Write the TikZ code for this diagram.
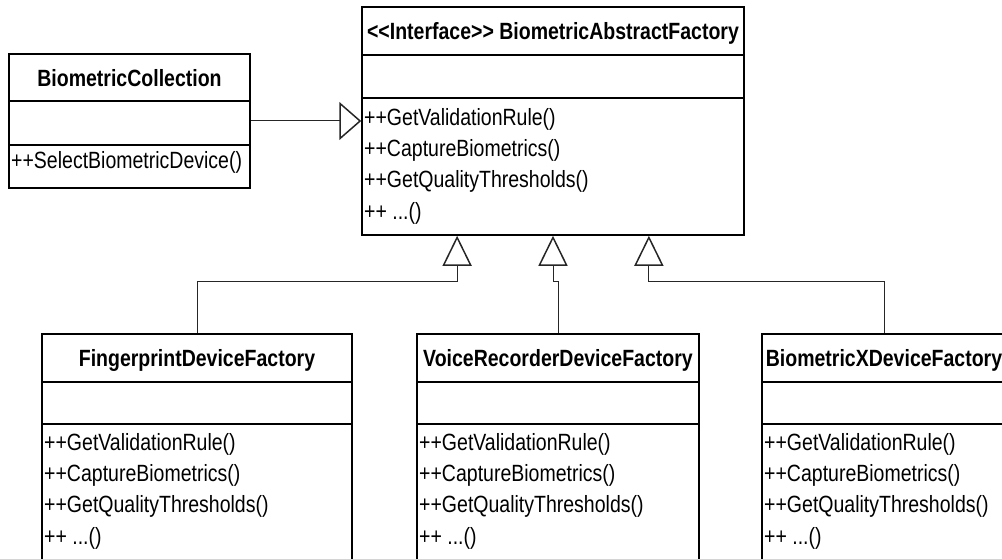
\documentclass[tikz,border=0pt]{standalone}
\usepackage{fontspec}
\setmainfont{Liberation Sans}[FakeStretch=0.83]
\usetikzlibrary{arrows.meta,calc}

\begin{document}
\begin{tikzpicture}[x=1pt,y=-1pt,
  umlbox/.style={draw=black, line width=1.5pt, rectangle, inner sep=0pt},
  divider/.style={draw=black, line width=1.5pt},
  classname/.style={font=\fontsize{23.5}{28}\selectfont\bfseries, inner sep=0pt, anchor=base},
  member/.style={font=\fontsize{23.5}{28}\selectfont, inner sep=0pt, anchor=base west},
  inherit/.style={draw=black!85, line width=1pt,
    -{Triangle[open, length=30pt, width=29pt, line width=1.5pt]}},
  realize/.style={draw=black!85, line width=1pt,
    -{Triangle[open, length=22pt, width=38pt, line width=1.5pt]}}]

\useasboundingbox (0,0) rectangle (1002,559);
\clip (0,0) rectangle (1002,559);

% ---- client class ----
\node[umlbox, minimum width=241pt, minimum height=134pt] (BC) at (129.5,121) {};
\draw[divider] ([yshift=-48pt]BC.north west) -- ([yshift=-48pt]BC.north east);
\draw[divider] ([yshift=-92pt]BC.north west) -- ([yshift=-92pt]BC.north east);
\node[classname] (BCt) at (129.5,87) {BiometricCollection};
\node[member] (BCm1) at (11,168) {++SelectBiometricDevice()};

% ---- abstract factory interface ----
\node[umlbox, minimum width=382pt, minimum height=228pt] (IF) at (553,121) {};
\draw[divider] ([yshift=-49pt]IF.north west) -- ([yshift=-49pt]IF.north east);
\draw[divider] ([yshift=-92pt]IF.north west) -- ([yshift=-92pt]IF.north east);
% kerns keep the angle brackets from merging into guillemets
\node[classname] (IFt) at (553,40) {<\kern0pt<Interface>\kern0pt> BiometricAbstractFactory};
\node[member] (IFm1) at (364,126) {++GetValidationRule()};
\node[member] (IFm2) at (364,157) {++CaptureBiometrics()};
\node[member] (IFm3) at (364,188) {++GetQualityThresholds()};
\node[member] (IFm4) at (364,219) {++ ...()};

% attachment points on the interface's lower edge
\coordinate (t1) at ($(IF.south west)!0.25!(IF.south east)$);
\coordinate (t2) at (IF.south);
\coordinate (t3) at ($(IF.south west)!0.75!(IF.south east)$);

% ---- concrete factories ----
\node[umlbox, anchor=north, minimum width=310pt, minimum height=300pt] (FP) at (197,333) {};
\node[umlbox, anchor=north, minimum width=282pt, minimum height=300pt] (VR) at (558,333) {};
\node[umlbox, anchor=north, minimum width=244pt, minimum height=300pt] (BX) at (884,333) {};

\foreach \b in {FP,VR,BX}{
  \draw[divider] ([yshift=-49pt]\b.north west) -- ([yshift=-49pt]\b.north east);
  \draw[divider] ([yshift=-91pt]\b.north west) -- ([yshift=-91pt]\b.north east);
}

\node[classname] (FPt) at (197,366) {FingerprintDeviceFactory};
\node[classname] (VRt) at (558,366) {VoiceRecorderDeviceFactory};
\node[classname] (BXt) at (884,366) {BiometricXDeviceFactory};

\foreach \b/\x in {FP/44,VR/419,BX/764}{
  \node[member] (\b m1) at (\x,450) {++GetValidationRule()};
  \node[member] (\b m2) at (\x,481) {++CaptureBiometrics()};
  \node[member] (\b m3) at (\x,512) {++GetQualityThresholds()};
  \node[member] (\b m4) at (\x,544) {++ ...()};
}

% ---- relations ----
\draw[realize] (BC.east) -- (BC.east -| IF.west);
\draw[inherit] (FP.north) -- ++(0,-52) -| (t1);
\draw[inherit] (VR.north) -- ++(0,-52) -| (t2);
\draw[inherit] (BX.north) -- ++(0,-52) -| (t3);

\end{tikzpicture}
\end{document}
